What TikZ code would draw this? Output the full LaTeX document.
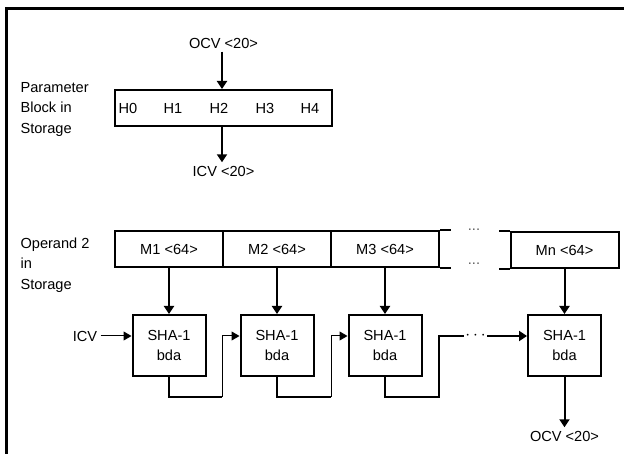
\documentclass[tikz,border=0pt]{standalone}
\usepackage{fontspec}
\setmainfont{Liberation Sans}
\usetikzlibrary{arrows.meta,positioning}
\definecolor{dotgray}{RGB}{90,90,90}

\tikzset{
  box/.style={draw, line width=2pt, inner sep=0pt, minimum height=36pt, minimum width=108pt},
  shabox/.style={draw, line width=2pt, inner sep=0pt, minimum width=73pt, minimum height=61pt, align=center},
  flow/.style={line width=2pt, -{Triangle[length=8pt,width=10pt]}},
  feed/.style={line width=1.8pt},
  thinflow/.style={line width=1pt, -{Triangle[length=8pt,width=9pt]}},
  side/.style={anchor=west, align=left},
}

\begin{document}
\begin{tikzpicture}[x=1pt,y=-1pt,font=\fontsize{14.6}{20.5}\selectfont]
\useasboundingbox (0,0) rectangle (624,454);
\draw[line width=3pt] (6,454) -- (6,9) -- (624,9);

% parameter block
\node[side] (plabel) at (17,109) {Parameter\\Block in\\Storage};
\node[box, minimum width=217pt] (pblock) at (223.5,108) {};
\foreach \i/\x in {0/128,1/173,2/219,3/265,4/310}
  \node (h\i) at (\x,108) {H\i};
\node (ocvin) at (223.5,43) {OCV <20>};
\node (icvout) at (223.5,171) {ICV <20>};
\draw[flow] ([xshift=-1.5pt]ocvin.south) -- ([xshift=-1.5pt]ocvin.south |- pblock.north);
\draw[flow] ([xshift=-1.5pt]ocvin.south |- pblock.south) -- ([xshift=-1.5pt]icvout.north);

% operand 2
\node[side] (olabel) at (17,265) {Operand 2\\in\\Storage};
\foreach \i/\x in {1/169,2/277,3/385}
  \node[box] (m\i) at (\x,249) {M\i{} <64>};
\node[box] (mn) at (564.5,250) {Mn <64>};
\draw[line width=2pt] (m3.north east) -- ++(11,0) (m3.south east) -- ++(11,0);
\draw[line width=2pt] (mn.north west) -- ++(-11,0) (mn.south west) -- ++(-11,0);
\node[dotgray, anchor=base] (dtop) at (474,231) {...};
\node[dotgray, anchor=base] (dbot) at (474,265) {...};

% SHA-1 chain
\foreach \i/\x in {1/169,2/277,3/385,4/564.5}
  \node[shabox] (sha\i) at (\x,345.5) {SHA-1\\bda};
\foreach \i in {1,2,3}
  \draw[flow] (m\i) -- (sha\i);
\draw[flow] (mn) -- (sha4);

\node (icvin) at (85,336) {ICV};
\draw[thinflow] (icvin) -- (icvin -| sha1.west);

\coordinate (turn1) at (222,397);
\coordinate (turn2) at (331,397);
\coordinate (turn3) at (439,397);
\draw[feed] (sha1.south) |- (turn1);
\draw[thinflow] (turn1) |- ([yshift=9.5pt]sha2.west);
\draw[feed] (sha2.south) |- (turn2);
\draw[thinflow] (turn2) |- ([yshift=9.5pt]sha3.west);
\node[inner xsep=1.5pt, inner ysep=0pt, font=\fontsize{19}{19}\selectfont] (hdots) at (475.5,336) {$\cdots$};
\draw[feed] (sha3.south) |- (turn3) |- (hdots.west);
\draw[flow] (hdots.east) -- (hdots.east -| sha4.west);

\node (ocvout) at (564.5,436) {OCV <20>};
\draw[flow] (sha4) -- (sha4 |- ocvout.north);
\end{tikzpicture}
\end{document}
